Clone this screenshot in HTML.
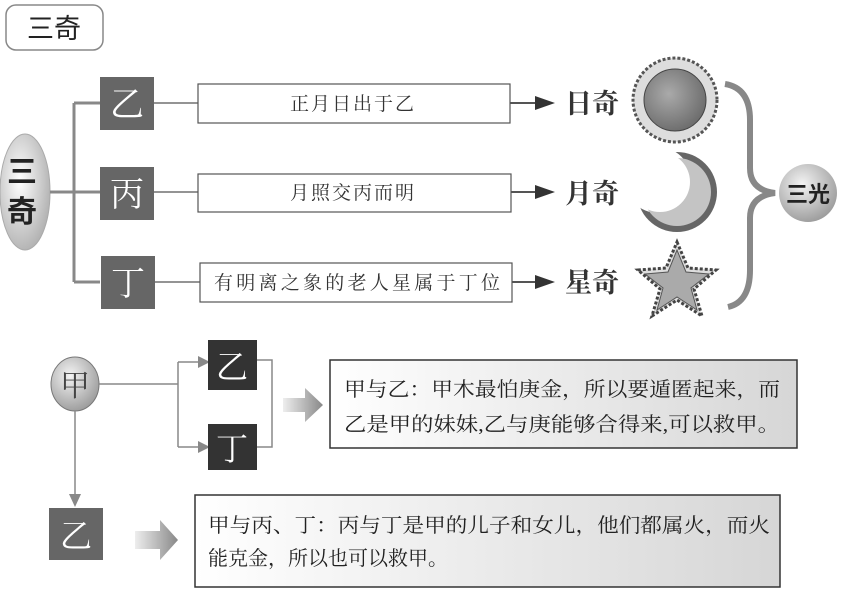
<!DOCTYPE html>
<html><head><meta charset="utf-8"><style>
body{margin:0;background:#fff;}
svg text{font-family:"Liberation Serif","Noto Serif CJK SC",serif;}
</style></head><body>
<svg width="849" height="590" viewBox="0 0 849 590" xmlns="http://www.w3.org/2000/svg">
<defs>
<radialGradient id="ell" cx="0.4" cy="0.4" r="0.7"><stop offset="0" stop-color="#fff"/><stop offset="1" stop-color="#aaa"/></radialGradient>
<radialGradient id="sun" cx="0.4" cy="0.4" r="0.7"><stop offset="0" stop-color="#aaa"/><stop offset="1" stop-color="#666"/></radialGradient>
<radialGradient id="ball" cx="0.4" cy="0.35" r="0.7"><stop offset="0" stop-color="#f4f4f4"/><stop offset="1" stop-color="#999"/></radialGradient>
<linearGradient id="box" x1="0" x2="1"><stop offset="0" stop-color="#fff"/><stop offset="1" stop-color="#d6d6d6"/></linearGradient>
<linearGradient id="arr" x1="0" x2="1"><stop offset="0" stop-color="#eee"/><stop offset="1" stop-color="#888"/></linearGradient>
<mask id="moonA"><rect width="849" height="590" fill="#000"/><circle cx="677" cy="192" r="40" fill="#fff"/><circle cx="658" cy="180" r="33" fill="#000"/></mask>
<mask id="moonB"><rect width="849" height="590" fill="#000"/><circle cx="677" cy="192" r="34" fill="#fff"/><circle cx="660" cy="182" r="30" fill="#000"/></mask>
</defs>
<rect x="6" y="5" width="97" height="45" rx="10" fill="#fff" stroke="#888" stroke-width="1.5"/>
<text x="54" y="38" font-size="27" text-anchor="middle" style="font-family:'Liberation Sans','Noto Sans CJK SC',sans-serif" fill="#222">三奇</text>
<ellipse cx="25" cy="192" rx="25" ry="58" fill="url(#ell)" stroke="#aaa"/>
<text x="22" y="182" font-size="30" font-weight="bold" text-anchor="middle" style="font-family:'Liberation Sans','Noto Sans CJK SC',sans-serif" fill="#222">三</text>
<text x="22" y="222" font-size="30" font-weight="bold" text-anchor="middle" style="font-family:'Liberation Sans','Noto Sans CJK SC',sans-serif" fill="#222">奇</text>
<g stroke="#888" stroke-width="3" fill="none">
<path d="M50 192H100M74 103V282M74 103H100M74 282H100"/>
</g>
<g fill="#666">
<rect x="100" y="77" width="54" height="53"/><rect x="100" y="167" width="54" height="53"/><rect x="101" y="256" width="54" height="53"/>
</g>
<g fill="#fff" font-size="34" text-anchor="middle">
<text x="127" y="116">乙</text><text x="127" y="206">丙</text><text x="128" y="295">丁</text>
</g>
<g stroke="#555" stroke-width="1.2" fill="#fff">
<path d="M154 103H198M154 192H198M155 282H200" fill="none"/>
<rect x="198" y="84" width="312" height="39"/>
<rect x="198" y="174" width="313" height="38"/>
<rect x="200" y="263" width="312" height="39"/>
<path d="M510 103H540M511 192H540M512 282H540" fill="none" stroke-width="2"/>
</g>
<g fill="#333"><path d="M535 96L555 103L535 110Z"/><path d="M535 185L555 192L535 199Z"/><path d="M535 275L555 282L535 289Z"/></g>
<g font-size="19" fill="#333">
<text x="290" y="110" textLength="124" lengthAdjust="spacing">正月日出于乙</text>
<text x="290" y="199" textLength="124" lengthAdjust="spacing">月照交丙而明</text>
<text x="214" y="289" textLength="286" lengthAdjust="spacing">有明离之象的老人星属于丁位</text>
</g>
<g font-size="27" font-weight="bold" fill="#333" style="font-family:'Liberation Sans','Noto Sans CJK SC',sans-serif">
<text x="565" y="113">日奇</text><text x="565" y="203">月奇</text><text x="565" y="292">星奇</text>
</g>
<circle cx="675" cy="100" r="42" fill="#ddd" stroke="#555" stroke-width="3" stroke-dasharray="3 2"/>
<circle cx="675" cy="100" r="31" fill="url(#sun)" stroke="#444"/>
<rect x="630" y="145" width="100" height="95" fill="#666" mask="url(#moonA)"/>
<rect x="630" y="145" width="100" height="95" fill="#c4c4c4" mask="url(#moonB)"/>
<path d="M677 242L688 268L716 270L694 289L702 316L677 300L652 316L660 289L638 270L666 268Z" fill="#ddd" stroke="#444" stroke-width="3" stroke-dasharray="3 2"/>
<path d="M677 250L686 272L709 274L691 288L697 310L677 297L657 310L663 288L645 274L668 272Z" fill="#aaa" stroke="#555"/>
<path d="M725 84Q750 88 750 120V168Q750 190 775 193Q750 196 750 218V270Q750 302 728 307" fill="none" stroke="#888" stroke-width="6"/>
<circle cx="808" cy="193" r="29" fill="url(#ball)"/>
<text x="808" y="202" font-size="22" font-weight="bold" text-anchor="middle" style="font-family:'Liberation Sans','Noto Sans CJK SC',sans-serif" fill="#222">三光</text>
<ellipse cx="75" cy="384" rx="24" ry="27" fill="url(#ball)" stroke="#777"/>
<text x="75" y="396" font-size="30" text-anchor="middle" fill="#444">甲</text>
<g stroke="#888" stroke-width="1.5" fill="none">
<path d="M99 384H178M178 362V447M178 362H200M178 447H200M257 360H272V447H257M75 411V496"/>
</g>
<g fill="#888"><path d="M198 356L210 362L198 368Z"/><path d="M198 441L210 447L198 453Z"/><path d="M69 494L75 507L81 494Z"/></g>
<rect x="208" y="340" width="49" height="50" fill="#333"/>
<rect x="208" y="424" width="49" height="46" fill="#333"/>
<text x="232" y="378" font-size="32" text-anchor="middle" fill="#fff">乙</text>
<text x="232" y="460" font-size="32" text-anchor="middle" fill="#fff">丁</text>
<path d="M283 398H305V388L323 405L305 422V412H283Z" fill="url(#arr)"/>
<rect x="330" y="360" width="467" height="88" fill="url(#box)" stroke="#333" stroke-width="1.5"/>
<g font-size="20" fill="#222" style="font-family:'Liberation Sans','Noto Sans CJK SC',sans-serif">
<text x="344" y="396" textLength="436" lengthAdjust="spacingAndGlyphs">甲与乙：甲木最怕庚金，所以要遁匿起来，而</text>
<text x="344" y="431" textLength="436" lengthAdjust="spacingAndGlyphs">乙是甲的妹妹,乙与庚能够合得来,可以救甲。</text>
</g>
<rect x="49" y="508" width="54" height="52" fill="#666"/>
<text x="76" y="547" font-size="32" text-anchor="middle" fill="#fff">乙</text>
<path d="M135 531H160V520L178 540L160 560V549H135Z" fill="url(#arr)"/>
<rect x="195" y="495" width="585" height="92" fill="url(#box)" stroke="#333" stroke-width="1.5"/>
<g font-size="20" fill="#222" style="font-family:'Liberation Sans','Noto Sans CJK SC',sans-serif">
<text x="208" y="532" textLength="562" lengthAdjust="spacingAndGlyphs">甲与丙、丁：丙与丁是甲的儿子和女儿，他们都属火，而火</text>
<text x="208" y="565">能克金，所以也可以救甲。</text>
</g>
</svg>
</body></html>
